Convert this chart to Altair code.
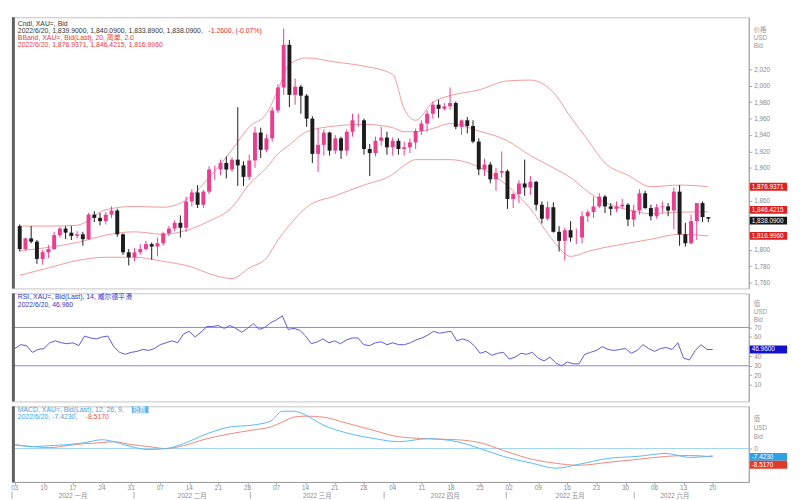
import altair as alt
import pandas as pd

# ---------------- data ----------------
jan = [3,4,5,6,7,10,11,12,13,14,17,18,19,20,21,24,25,26,27,28,31]
feb = [1,2,3,4,7,8,9,10,11,14,15,16,17,18,21,22,23,24,25,28]
mar = [1,2,3,4,7,8,9,10,11,14,15,16,17,18,21,22,23,24,25,28,29,30,31]
apr = [1,4,5,6,7,8,11,12,13,14,15,18,19,20,21,22,25,26,27,28,29]
may = [2,3,4,5,6,9,10,11,12,13,16,17,18,19,20,23,24,25,26,27,30,31]
jun = [1,2,3,6,7,8,9,10,13,14,15,16,17,20]
month_days = [jan, feb, mar, apr, may, jun]
month_names = ["2022 一月", "2022 二月", "2022 三月", "2022 四月", "2022 五月", "2022 六月"]

opens = [1829,1801,1814,1810,1789,1797,1801,1818,1826,1821,1817,1819,1813,1843,1839,1835,1843,1848,1819,1797,1791,
         1797,1801,1807,1804,1808,1820,1826,1833,1827,1859,1870,1855,1871,1898,1898,1906,1898,1910,1903,1889,
         1909,1943,1922,1936,1970,1998,2050,1989,1999,1988,1960,1917,1928,1943,1921,1936,1921,1944,1958,1958,1923,1918,1933,
         1937,1925,1933,1923,1925,1931,1945,1954,1966,1977,1972,1975,1979,1950,1958,1951,1932,1898,1904,1886,1894,
         1896,1862,1868,1881,1876,1883,1855,1838,1852,1822,1811,1824,1815,1815,1841,1846,1853,1865,1853,1850,1853,1855,
         1837,1848,1869,1851,1841,1852,1853,1848,1871,1819,1808,1835,1857,1839.9]
highs = [1831,1815,1829,1812,1800,1806,1822,1828,1829,1829,1823,1822,1845,1847,1845,1846,1853,1850,1820,1801,1802,
         1807,1811,1809,1815,1822,1829,1836,1842,1865,1874,1879,1873,1902,1903,1910,1914,1913,1974,1908,1916,
         1950,1949,1941,1974,2002,2070,2056,2009,2001,1990,1963,1949,1947,1944,1940,1938,1947,1966,1966,1960,1929,1938,1950,
         1944,1937,1936,1932,1936,1948,1958,1970,1981,1983,1979,1998,1981,1959,1962,1958,1936,1911,1907,1900,1920,
         1898,1870,1885,1910,1890,1884,1859,1859,1858,1829,1827,1835,1826,1847,1849,1865,1869,1867,1857,1859,1862,1857,
         1855,1874,1872,1855,1856,1859,1857,1876,1879,1833,1843,1857,1859,1840.09]
lows = [1798,1799,1808,1783,1782,1790,1800,1815,1813,1812,1814,1805,1812,1834,1830,1831,1839,1816,1794,1781,1786,
        1794,1799,1788,1792,1805,1817,1823,1815,1822,1853,1851,1851,1868,1885,1891,1887,1895,1878,1878,1885,
        1900,1912,1919,1932,1967,1989,1974,1977,1966,1950,1906,1895,1915,1915,1917,1911,1915,1938,1950,1916,1890,1914,1927,
        1916,1915,1916,1915,1918,1923,1940,1944,1960,1961,1970,1971,1947,1940,1942,1930,1891,1890,1881,1872,1888,
        1850,1851,1857,1866,1867,1848,1832,1836,1821,1798,1787,1810,1807,1808,1834,1839,1851,1845,1842,1846,1850,1829,
        1828,1843,1850,1836,1838,1845,1841,1825,1805,1804,1807,1812,1834,1833.89]
closes = [1801,1814,1810,1789,1797,1801,1818,1826,1821,1817,1819,1813,1843,1839,1835,1843,1848,1819,1797,1791,1797,
          1801,1807,1804,1808,1820,1826,1833,1827,1859,1870,1855,1871,1898,1898,1906,1898,1910,1903,1889,1909,
          1943,1922,1936,1970,1998,2050,1989,1999,1988,1960,1917,1928,1943,1921,1936,1921,1944,1958,1958,1923,1918,1933,1937,
          1925,1933,1923,1925,1931,1945,1954,1966,1977,1972,1975,1979,1950,1958,1951,1932,1898,1904,1886,1894,1896,
          1862,1868,1881,1876,1883,1855,1838,1852,1822,1811,1824,1815,1815,1841,1846,1853,1865,1853,1850,1853,1855,1837,
          1848,1869,1851,1841,1852,1853,1848,1871,1819,1808,1835,1857,1840,1838.09]

rsi = [48,52,51,44,47,48,54,56,54,53,54,51,61,59,58,60,61,50,44,42,44,
       45,47,46,48,52,54,56,54,63,66,60,65,71,71,72,69,72,69,65,69,
       74,68,70,75,78,82,68,69,67,61,53,55,58,54,56,53,57,59,59,52,51,54,55,
       52,54,52,52,54,57,59,62,66,64,65,66,56,58,56,51,43,45,41,43,44,
       37,39,43,42,44,38,35,39,33,30,34,32,32,42,44,46,50,47,46,47,48,43,
       46,52,48,45,48,49,47,54,38,36,46,52,47,46.96]

band_dates = ["2022-01-03","2022-01-10","2022-01-17","2022-01-24","2022-01-31","2022-02-07","2022-02-14",
              "2022-02-17","2022-02-23","2022-02-28","2022-03-03","2022-03-07","2022-03-09","2022-03-14",
              "2022-03-21","2022-03-28","2022-04-04","2022-04-06","2022-04-08","2022-04-13","2022-04-18",
              "2022-04-25","2022-05-02","2022-05-06","2022-05-12","2022-05-17","2022-05-20","2022-05-25",
              "2022-05-31","2022-06-06","2022-06-13","2022-06-20"]
bb_upper = [1829,1829,1830,1849,1853,1852,1866,1888,1922,1950,1966,1995,2026,2034,2029,2024,2014,1972,1958,
            1980,1988,1995,2006,2007,1992,1962,1934,1906,1891,1877,1879,1876.9371]
bb_mid = [1799,1803,1809,1818,1822,1819,1826,1835,1852,1880,1900,1917,1928,1944,1951,1953,1949,1944,1944,
          1948,1954,1945,1933,1915,1900,1888,1871,1858,1849,1844,1846,1846.4215]
bb_lower = [1769,1778,1787,1791,1791,1786,1779,1771,1765,1778,1790,1812,1830,1852,1866,1879,1892,1903,1910,
            1910,1910,1901,1878,1850,1811,1792,1798,1803,1808,1813,1819,1816.9960]

macd_dates = ["2022-01-03","2022-01-06","2022-01-11","2022-01-14","2022-01-19","2022-01-24","2022-01-26",
              "2022-01-31","2022-02-03","2022-02-08","2022-02-11","2022-02-17","2022-02-23","2022-03-01",
              "2022-03-04","2022-03-08","2022-03-10","2022-03-14","2022-03-17","2022-03-23","2022-03-30",
              "2022-04-05","2022-04-12","2022-04-19","2022-04-25","2022-04-29","2022-05-06","2022-05-12",
              "2022-05-18","2022-05-25","2022-06-01","2022-06-08","2022-06-14","2022-06-20"]
macd_line = [4,2,3,4,6,9,7,2,-1,0,5,15,22,24,28,38,38,34,24,16,10,7,10,7,0,-8,-15,-20,-16,-10,-8,-5,-9,-7.4230]
macd_signal = [4,2,1,3,5,6,7,4,2,0,3,10,15,19,22,27,32,33,32,26,18,12,10,9,6,-2,-11,-15,-17,-14,-11,-8,-7,-8.5170]

# axis labels left visible (those under the value boxes are hidden in the reference)
price_ticks = [2020,2000,1980,1960,1940,1920,1900,1860,1800,1780,1760]
rsi_ticks = [70,60,40,30,20,10]
rsi_levels = [70,30]
macd_ticks = [0]

# ---------------- frames ----------------
dates = ["2022-%02d-%02d" % (m + 1, d) for m, days in enumerate(month_days) for d in days]
pos = {d: k for k, d in enumerate(dates)}
df = pd.DataFrame({"i": list(range(len(dates))), "date": dates, "open": opens, "high": highs,
                   "low": lows, "close": closes, "rsi": rsi})
bdf = pd.DataFrame({"i": [pos[d] for d in band_dates], "upper": bb_upper, "mid": bb_mid, "lower": bb_lower})
mdf = pd.DataFrame({"i": [pos[d] for d in macd_dates], "macd": macd_line, "signal": macd_signal})

starts, centers = [], []
k = 0
for days in month_days:
    starts.append(k - 0.5)
    centers.append(k + (len(days) - 1) / 2)
    k += len(days)
monthdf = pd.DataFrame({"c": centers, "m": month_names})
sepdf = pd.DataFrame({"s": starts})

week_idx = [k for k, d in enumerate(dates) if pd.Timestamp(d).dayofweek == 0]
weekdf = pd.DataFrame({"w": week_idx, "lab": [dates[k][8:10] for k in week_idx]})

# ---------------- style ----------------
W, H1, H2, H3 = 750, 276, 110, 77
PINK, BLACK = "#ea3d8f", "#1c1c1c"
BAND = "#f29a9a"
RSI_C, RSI_LVL = "#5a5ad6", "#8686e4"
MACD_C, SIG_C, ZERO_C = "#56bdf0", "#f0877a", "#9ed3f2"
GRAY = "#8a8a8a"
FONT = "Liberation Sans, Noto Sans CJK SC"

xs = alt.Scale(domain=[-0.5, 126.2], nice=False, zero=False)
ys1 = alt.Scale(domain=[1753, 2083.6], nice=False, zero=False)
ys2 = alt.Scale(domain=[-7.2, 105.6], nice=False, zero=False)
ys3 = alt.Scale(domain=[-34, 43], nice=False, zero=False)


def yaxis(vals, fmt):
    return alt.Axis(orient="right", values=vals, format=fmt, title=None, grid=False,
                    labelFontSize=6.5, labelColor=GRAY, labelFont=FONT, tickSize=3, tickColor="#aaa",
                    domainColor="#999", labelPadding=2)


AX1 = yaxis(price_ticks, ",d")
AX2 = yaxis(rsi_ticks, "d")
AX3 = yaxis(macd_ticks, "d")
XAX = alt.Axis(values=week_idx, labels=False, title=None, grid=False, tickSize=3, tickColor="#aaa",
               domainColor="#999")


def txt(s, x, y, color, size=7, align="left", weight="normal"):
    return alt.Chart(pd.DataFrame({"t": [s]})).mark_text(
        align=align, baseline="middle", fontSize=size, color=color, font=FONT, fontWeight=weight
    ).encode(x=alt.value(x), y=alt.value(y), text="t:N")


def box(v, label, scale, ax, color, yoff=0):
    d = pd.DataFrame({"v": [v], "t": [label]})
    r = alt.Chart(d).mark_rule(strokeWidth=8, color=color, yOffset=yoff).encode(
        x=alt.value(751), x2=alt.value(789), y=alt.Y("v:Q", scale=scale, axis=ax, title=None))
    t = alt.Chart(d).mark_text(align="left", baseline="middle", fontSize=6.5, color="white",
                               font=FONT, dy=yoff).encode(
        x=alt.value(753), y=alt.Y("v:Q", scale=scale, axis=ax, title=None), text="t:N")
    return r + t


def leftbar(h):
    return alt.Chart(pd.DataFrame({"a": [0]})).mark_rect(color="#606060").encode(
        x=alt.value(0), x2=alt.value(3), y=alt.value(0), y2=alt.value(h))


color_cond = alt.condition("datum.close >= datum.open", alt.value(PINK), alt.value(BLACK))
base = alt.Chart(df)

# ---------------- panel 1: candles + bollinger ----------------
wick = base.mark_rule(strokeWidth=1).encode(
    x=alt.X("i:Q", scale=xs, axis=None),
    y=alt.Y("low:Q", scale=ys1, axis=AX1, title=None),
    y2="high:Q", color=color_cond)
body = base.mark_bar(width=4).encode(
    x=alt.X("i:Q", scale=xs, axis=None),
    y=alt.Y("open:Q", scale=ys1, axis=AX1, title=None), y2="close:Q", color=color_cond)
bands = [alt.Chart(bdf).mark_line(color=BAND, strokeWidth=1, interpolate="monotone").encode(
    x=alt.X("i:Q", scale=xs, axis=None), y=alt.Y(f"{c}:Q", scale=ys1, axis=AX1, title=None))
    for c in ["upper", "mid", "lower"]]

p1 = alt.layer(
    *bands, wick, body, leftbar(H1),
    txt("Cndl, XAU=, Bid", 6, 7, "#333333"),
    txt("2022/6/20, 1,839.9000, 1,840.0900, 1,833.8900, 1,838.0900,", 6, 14, "#333333"),
    txt("-1.2600, (-0.07%)", 200, 14, "#e03030"),
    txt("BBand, XAU=, Bid(Last), 20, 简单, 2.0", 6, 21, "#e84040"),
    txt("2022/6/20, 1,876.9371, 1,846.4215, 1,816.9960", 6, 28, "#e84040"),
    txt("价格", 755, 13, "#999999", 6.5), txt("USD", 755, 21, "#999999", 6.5),
    txt("Bid", 755, 29, "#999999", 6.5),
    box(1876.9371, "1,876.9371", ys1, AX1, "#dd2020"),
    box(1846.4215, "1,846.4215", ys1, AX1, "#dd2020", -2),
    box(1838.09, "1,838.0900", ys1, AX1, "#151515", 2),
    box(1816.9960, "1,816.9960", ys1, AX1, "#dd2020"),
).properties(width=W, height=H1)

# ---------------- panel 2: RSI ----------------
rsi_line = base.mark_line(color=RSI_C, strokeWidth=1).encode(
    x=alt.X("i:Q", scale=xs, axis=None),
    y=alt.Y("rsi:Q", scale=ys2, axis=AX2, title=None))
lv = alt.Chart(pd.DataFrame({"lv": rsi_levels})).mark_rule(color=RSI_LVL, strokeWidth=1).encode(
    y=alt.Y("lv:Q", scale=ys2, axis=AX2, title=None))
p2 = alt.layer(
    lv, rsi_line, leftbar(H2),
    txt("RSI, XAU=, Bid(Last), 14, 威尔德平滑", 6, 4, "#3535c8"),
    txt("2022/6/20, 46.960", 6, 12, "#3535c8"),
    txt("值", 755, 11, "#999999", 6.5), txt("USD", 755, 19, "#999999", 6.5),
    txt("Bid", 755, 27, "#999999", 6.5),
    box(46.96, "46.9600", ys2, AX2, "#1212cc"),
).properties(width=W, height=H2)

# ---------------- panel 3: MACD ----------------
zero = alt.Chart(pd.DataFrame({"z": [0]})).mark_rule(color=ZERO_C, strokeWidth=1).encode(
    y=alt.Y("z:Q", scale=ys3, axis=AX3, title=None))
ml = alt.Chart(mdf).mark_line(color=MACD_C, strokeWidth=1, interpolate="monotone").encode(
    x=alt.X("i:Q", scale=xs, axis=XAX, title=None),
    y=alt.Y("macd:Q", scale=ys3, axis=AX3, title=None))
sl = alt.Chart(mdf).mark_line(color=SIG_C, strokeWidth=1, interpolate="monotone").encode(
    x=alt.X("i:Q", scale=xs, axis=XAX, title=None),
    y=alt.Y("signal:Q", scale=ys3, axis=AX3, title=None))
weeks = alt.Chart(weekdf).mark_text(fontSize=6.5, color=GRAY, font=FONT, baseline="middle").encode(
    x=alt.X("w:Q", scale=xs, axis=XAX, title=None), y=alt.value(H3 + 6), text="lab:N")
months = alt.Chart(monthdf).mark_text(fontSize=6.5, color=GRAY, font=FONT, baseline="middle").encode(
    x=alt.X("c:Q", scale=xs, axis=XAX, title=None), y=alt.value(H3 + 14), text="m:N")
seps = alt.Chart(sepdf).mark_rule(color="#aaaaaa", strokeWidth=1).encode(
    x=alt.X("s:Q", scale=xs, axis=XAX, title=None), y=alt.value(H3 + 10), y2=alt.value(H3 + 17))
idx_box = alt.Chart(pd.DataFrame({"a": [0]})).mark_rect(color="#5bb8ee").encode(
    x=alt.value(122), x2=alt.value(139), y=alt.value(0), y2=alt.value(7))
p3 = alt.layer(
    zero, sl, ml, weeks, months, seps, leftbar(H3), idx_box,
    txt("MACD, XAU=, Bid(Last), 12, 26, 9,", 6, 3.5, "#3ca6e6"),
    txt("指数", 123, 3.5, "white", 6.5),
    txt("2022/6/20, -7.4230,", 6, 11, "#3ca6e6"),
    txt("-8.5170", 75, 11, "#ee5a4a"),
    txt("值", 755, 13, "#999999", 6.5), txt("USD", 755, 22, "#999999", 6.5),
    txt("Bid", 755, 31, "#999999", 6.5),
    box(-7.4230, "-7.4230", ys3, AX3, "#2f9fe6", 1),
    box(-8.5170, "-8.5170", ys3, AX3, "#e03a2a", 8),
).properties(width=W, height=H3)

chart = alt.vconcat(p1, p2, p3, spacing=3).properties(
    padding={"left": 2, "top": 4, "right": 0, "bottom": 0}, background="white"
).configure_view(stroke="#c4c4c4", strokeWidth=1)

chart.save("out.html", embed_options={"renderer": "svg", "actions": False})
